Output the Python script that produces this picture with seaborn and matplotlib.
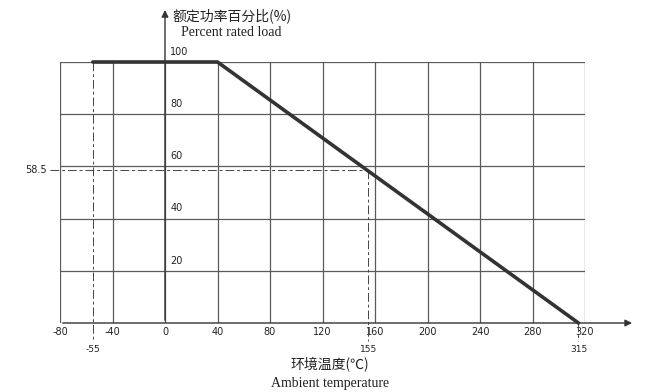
import matplotlib
matplotlib.use("Agg")
import matplotlib.pyplot as plt
import seaborn as sns
import pandas as pd

# data
curve_temp = [-55, 40, 315]
curve_load = [100, 100, 0]
x_ticks = [-80, -40, 0, 40, 80, 120, 160, 200, 240, 280, 320]
y_ticks = [20, 40, 60, 80, 100]
marker_temps = [-55, 155, 315]
marker_load = 58.5

sns.set_style("white")
plt.rcParams['font.family'] = ['DejaVu Sans']

fig = plt.figure(figsize=(6.55, 3.92), dpi=100)
ax = fig.add_axes([60/655, 1-323/392, 525/655, 261/392])
ax.set_xlim(-80, 320)
ax.set_ylim(0, 100)

gc = '#5a5a5a'
for x in x_ticks:
    ax.axvline(x, color=gc, lw=0.9, zorder=1)
for y in y_ticks:
    ax.axhline(y, color=gc, lw=0.9, zorder=1)

for s in ax.spines.values():
    s.set_visible(False)

# axes with arrows
ax.annotate('', xy=(358, 0), xytext=(-80, 0), xycoords='data',
            arrowprops=dict(arrowstyle='-|>', color='#333333', lw=1.0, mutation_scale=10),
            annotation_clip=False, zorder=3)
ax.annotate('', xy=(0, 121), xytext=(0, 0), xycoords='data',
            arrowprops=dict(arrowstyle='-|>', color='#333333', lw=1.0, mutation_scale=10),
            annotation_clip=False, zorder=3)

# dashed guide lines
ds = (0, (9, 3, 3, 3))
ax.plot([-55, -55], [100, -7], color='#444444', lw=0.7, ls=ds, clip_on=False, zorder=2)
ax.plot([-88, 155], [marker_load, marker_load], color='#444444', lw=0.7, ls=ds, clip_on=False, zorder=2)
ax.plot([155, 155], [marker_load, -7], color='#444444', lw=0.7, ls=ds, clip_on=False, zorder=2)
ax.plot([315, 315], [0, -7], color='#444444', lw=0.7, ls=ds, clip_on=False, zorder=2)

# derating curve
df = pd.DataFrame({'temp': curve_temp, 'load': curve_load})
sns.lineplot(data=df, x='temp', y='load', ax=ax, color='#333333', lw=2.6,
             zorder=4, clip_on=False, legend=False)

ax.set_xlabel('')
ax.set_ylabel('')
ax.set_xticks(x_ticks, labels=[str(v) for v in x_ticks])
ax.set_xticks(marker_temps, labels=[str(v) for v in marker_temps], minor=True)
ax.tick_params(axis='x', which='major', length=0, pad=3, labelsize=7, colors='#222222')
ax.tick_params(axis='x', which='minor', length=0, pad=16, labelsize=6.5, colors='#222222')
ax.set_yticks([])

for y in y_ticks:
    ax.text(4, y + 2, str(y), fontsize=7, ha='left', va='bottom', color='#222222')
ax.text(-90, marker_load, str(marker_load), fontsize=7, ha='right', va='center', color='#222222')

fig.text(172/655, 1-16/392, '额定功率百分比(%)', family=['Noto Sans CJK SC', 'DejaVu Sans'],
         fontsize=10, ha='left', va='center', color='#222222')
fig.text(181/655, 1-33/392, 'Percent rated load', family='Liberation Serif',
         fontsize=10, ha='left', va='center', color='#222222')
fig.text(330/655, 1-365/392, '环境温度(℃)', family=['Noto Sans CJK SC', 'DejaVu Sans'],
         fontsize=10, ha='center', va='center', color='#222222')
fig.text(330/655, 1-383/392, 'Ambient temperature', family='Liberation Serif',
         fontsize=10, ha='center', va='center', color='#222222')

fig.savefig('out.png', dpi=100)
